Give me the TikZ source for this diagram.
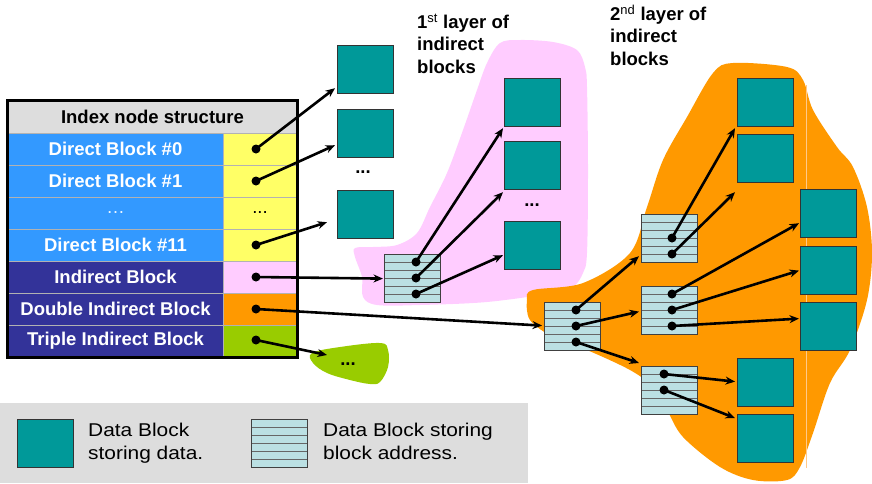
\documentclass[tikz,border=0pt]{standalone}
\usepackage{fontspec}
\setmainfont{Liberation Sans}
\newfontfamily\legendfont{Liberation Sans}[FakeStretch=1.13]
\usetikzlibrary{arrows.meta,calc}
\definecolor{tealc}{HTML}{009999}
\definecolor{stripec}{HTML}{BBE0E3}
\definecolor{pinkc}{HTML}{FFCCFF}
\definecolor{orangec}{HTML}{FF9900}
\definecolor{greenc}{HTML}{99CC00}
\definecolor{lblue}{HTML}{3399FF}
\definecolor{dblue}{HTML}{333399}
\definecolor{yellowc}{HTML}{FFFF66}
\definecolor{hdrgray}{HTML}{DDDDDD}
\definecolor{legendgray}{HTML}{DDDDDD}
\definecolor{faintc}{HTML}{FFC98A}
\newcommand{\tblfont}{\fontsize{18.5}{22}\selectfont\bfseries}
\tikzset{
  datab/.style={draw=black!80, fill=tealc, line width=1.2pt, minimum width=56, minimum height=48, inner sep=0, anchor=north west},
  addrb/.style={draw=black!75, fill=stripec, line width=1.2pt, minimum width=56, minimum height=48, inner sep=0, anchor=north west,
    path picture={\foreach \k in {1,...,5}{\draw[black!60, line width=1.2pt]
      ($(path picture bounding box.north west)!\k/6!(path picture bounding box.south west)$) --
      ($(path picture bounding box.north east)!\k/6!(path picture bounding box.south east)$);}}},
  cell/.style={draw=gray!60, line width=0.8pt, minimum height=32, inner sep=0, font=\tblfont, text=white},
  lcell/.style={cell, minimum width=215},
  rcell/.style={cell, minimum width=74},
  dot/.style={circle, fill=black, inner sep=0, minimum size=9},
  arr/.style={line width=2.6pt, -{Stealth[length=9.5pt,width=8pt]}},
  lbl/.style={anchor=north west, inner sep=0, align=left, font=\fontsize{18.5}{22.5}\selectfont\bfseries},
  legtext/.style={anchor=north west, inner sep=0, align=left, font=\legendfont\fontsize{18.5}{23}\selectfont},
  ell/.style={inner sep=0, font=\tblfont}
}
\begin{document}
\begin{tikzpicture}[x=1pt,y=-1pt]
\useasboundingbox (0,0) rectangle (872,483);

% blobs
\fill[pinkc] plot[smooth cycle, tension=0.55] coordinates {(500,43) (520,40) (553,42) (577,50) (585,67) (587,87) (588,170) (587,253) (583,273) (573,287) (553,293) (487,302) (420,305) (377,305) (363,297) (362,277) (355,257) (355,248) (373,247) (397,245) (417,233) (430,207) (447,173) (463,130) (477,90) (487,63)};
\fill[orangec] plot[smooth cycle, tension=0.55] coordinates {(527,300) (533,290) (583,283) (630,253) (647,207) (663,160) (687,117) (713,73) (733,63) (787,67) (803,80) (813,110) (837,147) (853,167) (867,207) (872,253) (867,300) (850,350) (830,383) (813,433) (800,467) (787,480) (753,480) (720,467) (683,437) (667,410) (653,387) (630,370) (587,350) (553,337) (530,320)};
\fill[greenc] plot[smooth cycle, tension=0.6] coordinates {(312,353) (340,347) (380,343) (388,350) (388,367) (380,382) (370,384) (350,380) (327,373) (313,363)};
\draw[faintc, line width=0.8pt] (806,85) -- (806,468);

% labels
\node[lbl] (lab1) at (417,13.5) {1\textsuperscript{\mdseries st} layer of\\indirect\\blocks};
\node[lbl] (lab2) at (610,4.5) {2\textsuperscript{\mdseries nd} layer of\\indirect\\blocks};

% table
\node[cell, minimum width=289, fill=hdrgray, text=black] (hdr) at (152.5,117) {Index node structure};
\node[lcell, fill=lblue] (l0) at (115.5,149) {Direct Block \#0};
\node[lcell, fill=lblue] (l1) at (115.5,181) {Direct Block \#1};
\node[lcell, fill=lblue, font=\fontsize{18.5}{22}\selectfont, text=white!90!lblue] (l2) at (115.5,213) {\dots};
\node[lcell, fill=lblue] (l3) at (115.5,245) {Direct Block \#11};
\node[lcell, fill=dblue] (l4) at (115.5,277) {Indirect Block};
\node[lcell, fill=dblue] (l5) at (115.5,309) {Double Indirect Block};
\node[lcell, fill=dblue] (l6) at (115.5,341) {Triple Indirect Block};
\node[rcell, fill=yellowc] (r0) at (260,149) {};
\node[rcell, fill=yellowc] (r1) at (260,181) {};
\node[rcell, fill=yellowc, text=black, font=\fontsize{18.5}{22}\selectfont] (r2) at (260,213) {...};
\node[rcell, fill=yellowc] (r3) at (260,245) {};
\node[rcell, fill=pinkc] (r4) at (260,277) {};
\node[rcell, fill=orangec] (r5) at (260,309) {};
\node[rcell, fill=greenc] (r6) at (260,341) {};
\draw[line width=3pt] (hdr.north west) rectangle (r6.south east);

% direct data blocks
\node[datab] (b0) at (337,45) {};
\node[datab] (b1) at (337,109) {};
\node[ell] (bd) at (363,172) {...};
\node[datab] (b2) at (337,190) {};

% first layer
\node[addrb] (s1) at (384,254) {};
\node[datab] (p1) at (504,78) {};
\node[datab] (p2) at (504,141) {};
\node[ell] (pd) at (532,205) {...};
\node[datab] (p3) at (504,221) {};

% second layer
\node[addrb] (m) at (544,302) {};
\node[addrb] (A) at (641,214) {};
\node[addrb] (B) at (641,286) {};
\node[addrb] (C) at (641,366) {};
\node[datab] (D1) at (737,78) {};
\node[datab] (D2) at (737,134) {};
\node[datab] (D3) at (800,189) {};
\node[datab] (D4) at (800,246) {};
\node[datab] (D5) at (800,302) {};
\node[datab] (D6) at (737,358) {};
\node[datab] (D7) at (737,414) {};

% green blob ellipsis
\node[ell] (gd) at (348,364) {...};
\coordinate (gtip) at (327,355);

% dots
\node[dot] (q0) at (256,149) {};
\node[dot] (q1) at (256,181) {};
\node[dot] (q3) at (256,245) {};
\node[dot] (q4) at (256,277) {};
\node[dot] (q5) at (256,309) {};
\node[dot] (q6) at (256,340) {};
\node[dot] (s1a) at (416,262) {};
\node[dot] (s1b) at (416,278) {};
\node[dot] (s1c) at (416,294) {};
\node[dot] (ma) at (576,310) {};
\node[dot] (mb) at (576,326) {};
\node[dot] (mc) at (576,342) {};
\node[dot] (Aa) at (672,238) {};
\node[dot] (Ab) at (672,254) {};
\node[dot] (Ba) at (672,294) {};
\node[dot] (Bb) at (672,310) {};
\node[dot] (Bc) at (672,326) {};
\node[dot] (Ca) at (664,374) {};
\node[dot] (Cb) at (664,390) {};

% arrows
\draw[arr] (q0.center) -- ([shift={(-2,-6)}]b0.south west);
\draw[arr] (q1.center) -- ([shift={(-2,-13)}]b1.south west);
\draw[arr] (q3.center) -- ([shift={(-10,-17)}]b2.south west);
\draw[arr] (q4.center) -- ([xshift=-1]s1.west);
\draw[arr] (q5.center) -- ([shift={(-2,-1)}]m.west);
\draw[arr] (q6.center) -- (gtip);
\draw[arr] (s1a.center) -- ([shift={(-1,1)}]p1.south west);
\draw[arr] (s1b.center) -- ([shift={(-1,2)}]p2.south west);
\draw[arr] (s1c.center) -- ([shift={(-1,-15)}]p3.south west);
\draw[arr] (ma.center) -- ([shift={(-2,-7)}]A.south west);
\draw[arr] (mb.center) -- ([shift={(-2,1)}]B.west);
\draw[arr] (mc.center) -- ([shift={(-2,-3)}]C.north west);
\draw[arr] (Aa.center) -- ([shift={(-2,1)}]D1.south west);
\draw[arr] (Ab.center) -- ([shift={(-2,9)}]D2.south west);
\draw[arr] (Ba.center) -- ([shift={(-1,-15)}]D3.south west);
\draw[arr] (Bb.center) -- ([xshift=-1]D4.west);
\draw[arr] (Bc.center) -- ([shift={(-1,-8)}]D5.west);
\draw[arr] (Ca.center) -- ([shift={(-2,-1)}]D6.west);
\draw[arr] (Cb.center) -- ([shift={(-2,4)}]D7.north west);

% legend
\node[fill=legendgray, minimum width=528, minimum height=80, inner sep=0, anchor=north west] (legend) at (0,403) {};
\node[datab] (legd) at (17,419) {};
\node[legtext] (legdt) at (88,422.5) {Data Block\\storing data.};
\node[addrb] (lega) at (251,419) {};
\node[legtext] (legat) at (323,422.5) {Data Block storing\\block address.};
\end{tikzpicture}
\end{document}
